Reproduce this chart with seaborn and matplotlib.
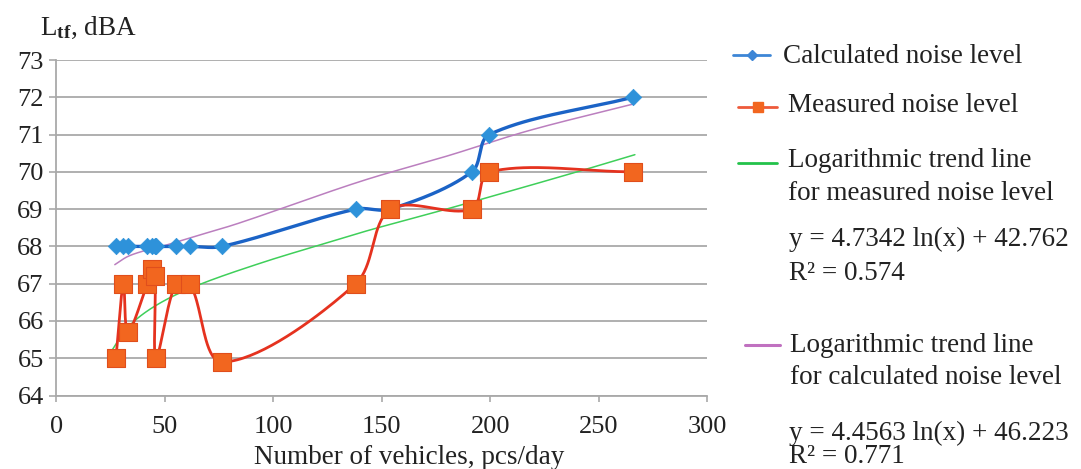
import numpy as np
import pandas as pd
import matplotlib
matplotlib.use("Agg")
import matplotlib.pyplot as plt
from matplotlib.lines import Line2D
import seaborn as sns

# Traffic flow (vehicles per day) and noise levels, dBA
vehicles = [27.5, 31, 33, 42, 44, 45.5, 46, 55, 61.6, 76.5, 138, 154, 191.5, 199.5, 265.5]
calculated = [68, 68, 68, 68, 68, 68, 68, 68, 68, 68, 69, 69, 70, 71, 72]
measured = [65, 67, 65.7, 67, 67.4, 67.2, 65, 67, 67, 64.9, 67, 69, 69, 70, 70]

# Logarithmic trend lines, sampled along x
trend_meas_x = [25, 33, 45.5, 64, 94.6, 125, 144.5, 181, 240, 266.6]
trend_meas_y = [65.15, 65.83, 66.4, 66.93, 67.56, 68.1, 68.44, 69.02, 70.0, 70.46]
trend_calc_x = [27, 33, 41, 48.6, 64, 84, 140, 181, 218, 266.6]
trend_calc_y = [67.51, 67.73, 67.89, 68.0, 68.27, 68.62, 69.74, 70.44, 71.11, 71.83]

x_ticks = [0, 50, 100, 150, 200, 250, 300]
y_ticks = [64, 65, 66, 67, 68, 69, 70, 71, 72, 73]

legend_labels = ["Calculated noise level", "Measured noise level",
                 "Logarithmic trend line\nfor measured noise level",
                 "Logarithmic trend line\nfor calculated noise level"]
eq_measured = ["y = 4.7342 ln(x) + 42.762", "R² = 0.574"]
eq_calculated = ["y = 4.4563 ln(x) + 46.223", "R² = 0.771"]

BLUE_LINE = "#1b63c6"
BLUE_MARK = "#2e92da"
RED_LINE = "#e5321f"
RED_MARK = "#f2661f"
GREEN = "#3fcf5a"
PURPLE = "#bb7fbf"
GRID = "#a9a9a9"
TEXT = "#222222"

sns.set_theme(style="white")
plt.rcParams["font.family"] = ["Liberation Serif", "DejaVu Serif"]
plt.rcParams["mathtext.fontset"] = "custom"
plt.rcParams["mathtext.rm"] = "Liberation Serif"
plt.rcParams["mathtext.bf"] = "Liberation Serif:bold"
plt.rcParams["mathtext.it"] = "Liberation Serif:italic"

# approximate screen scale of one data unit (px), used for segment weighting
PX_PER_X = 2.171
PX_PER_Y = 37.3


def smooth_path(x, y, n=40):
    """Bezier smoothing through every point; tangents weighted by segment length."""
    P = np.column_stack([x, y]).astype(float)
    S = P * np.array([PX_PER_X, PX_PER_Y])
    m = len(P)
    out = [P[0]]
    t = np.linspace(0, 1, n)[1:, None]
    for i in range(m - 1):
        i0 = i - 1 if i > 0 else i
        i3 = i + 2 if i + 2 < m else i + 1
        d01 = np.linalg.norm(S[i] - S[i0])
        d12 = np.linalg.norm(S[i + 1] - S[i])
        d23 = np.linalg.norm(S[i3] - S[i + 1])
        w1 = d12 / (d01 + d12) if d01 + d12 > 0 else 0.5
        w2 = d12 / (d12 + d23) if d12 + d23 > 0 else 0.5
        p1, p2 = P[i], P[i + 1]
        c1 = p1 + (P[i + 1] - P[i0]) * w1 / 3.0
        c2 = p2 - (P[i3] - P[i]) * w2 / 3.0
        seg = (1 - t) ** 3 * p1 + 3 * (1 - t) ** 2 * t * c1 + 3 * (1 - t) * t ** 2 * c2 + t ** 3 * p2
        out.extend(seg)
    out = np.array(out)
    return pd.DataFrame({"x": out[:, 0], "y": out[:, 1]})


W, H = 1081, 469
fig = plt.figure(figsize=(W / 100, H / 100), dpi=100)
ax = fig.add_axes([56.2 / W, 1 - 395.5 / H, (707.4 - 56.2) / W, (395.5 - 60) / H])

# trend lines
sns.lineplot(data=smooth_path(trend_meas_x, trend_meas_y), x="x", y="y", ax=ax,
             color=GREEN, lw=1.1, sort=False, estimator=None, zorder=2)
sns.lineplot(data=smooth_path(trend_calc_x, trend_calc_y), x="x", y="y", ax=ax,
             color=PURPLE, lw=1.1, sort=False, estimator=None, zorder=2)

# calculated series
sns.lineplot(data=smooth_path(vehicles, calculated), x="x", y="y", ax=ax,
             color=BLUE_LINE, lw=2.4, sort=False, estimator=None, zorder=3)
sns.scatterplot(x=vehicles, y=calculated, ax=ax, marker="D", s=70,
                color=BLUE_MARK, edgecolor=BLUE_MARK, linewidth=0.5, zorder=4)

# measured series
sns.lineplot(data=smooth_path(vehicles, measured), x="x", y="y", ax=ax,
             color=RED_LINE, lw=2.0, sort=False, estimator=None, zorder=5)
sns.scatterplot(x=vehicles, y=measured, ax=ax, marker="s", s=150,
                color=RED_MARK, edgecolor="#e04e1c", linewidth=0.8, zorder=6)

ax.set_xlim(0, 300)
ax.set_ylim(64, 73)
ax.set_xticks(x_ticks)
ax.set_yticks(y_ticks)
ax.set_xlabel("")
ax.set_ylabel("")
ax.grid(axis="y", color=GRID, lw=1.3)
ax.grid(axis="x", visible=False)
for side in ("top", "right"):
    ax.spines[side].set_visible(False)
for side in ("left", "bottom"):
    ax.spines[side].set_color(GRID)
    ax.spines[side].set_linewidth(1.3)
ax.tick_params(axis="y", which="major", left=True, length=5, width=1.2, color=GRID,
               labelsize=19, pad=4, labelcolor=TEXT)
ax.tick_params(axis="x", which="major", bottom=True, length=4, width=1.2, color=GRID,
               labelsize=19, pad=11, labelcolor=TEXT)

# axis titles
fig.text(40 / W, 1 - 35 / H, r"L$_{\mathbf{tf}}$, dBA", fontsize=19.5, color=TEXT,
         ha="left", va="baseline")
fig.text(409 / W, 1 - 464 / H, "Number of vehicles, pcs/day", fontsize=19.5,
         color=TEXT, ha="center", va="baseline")


# legend on the right
def fx(px):
    return px / W


def fy(py):
    return 1 - py / H


fig.add_artist(Line2D([fx(733), fx(751.5), fx(770)], [fy(55)] * 3, color="#3d86d6", lw=2.0,
                      marker="D", markersize=5, markevery=[1], transform=fig.transFigure))
fig.add_artist(Line2D([fx(738), fx(757.5), fx(777)], [fy(107)] * 3, color="#ee5a3a", lw=2.0,
                      marker="s", markersize=7, markevery=[1], markerfacecolor=RED_MARK,
                      markeredgecolor=RED_MARK, transform=fig.transFigure))
fig.add_artist(Line2D([fx(738), fx(777)], [fy(163)] * 2, color="#22c24a", lw=2.0,
                      transform=fig.transFigure))
fig.add_artist(Line2D([fx(745), fx(780)], [fy(345)] * 2, color="#c071c0", lw=2.2,
                      transform=fig.transFigure))

text_kw = dict(fontsize=19.5, color=TEXT, ha="left", va="baseline")
fig.text(fx(783), fy(63), legend_labels[0], **text_kw)
fig.text(fx(788), fy(112), legend_labels[1], **text_kw)
l3a, l3b = legend_labels[2].split("\n")
fig.text(fx(788), fy(167), l3a, **text_kw)
fig.text(fx(788), fy(200), l3b, **text_kw)
fig.text(fx(789), fy(246), eq_measured[0], **text_kw)
fig.text(fx(789), fy(280), eq_measured[1], **text_kw)
l4a, l4b = legend_labels[3].split("\n")
fig.text(fx(790), fy(352), l4a, **text_kw)
fig.text(fx(790), fy(384), l4b, **text_kw)
fig.text(fx(789), fy(440), eq_calculated[0], **text_kw)
fig.text(fx(789), fy(463), eq_calculated[1], **text_kw)

fig.savefig("out.png", dpi=100)
